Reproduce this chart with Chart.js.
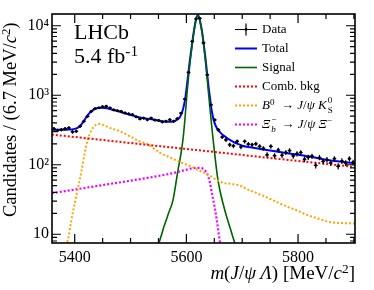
<!DOCTYPE html>
<html><head><meta charset="utf-8">
<script src="https://cdn.jsdelivr.net/npm/chart.js@4.4.1/dist/chart.umd.min.js"></script>
<style>
html,body{margin:0;padding:0;background:#fff;}
#wrap{position:relative;width:374px;height:290px;overflow:hidden;}
canvas{display:block;}
.t{position:absolute;font-family:"Liberation Serif","Times New Roman",serif;color:#000;white-space:nowrap;}
.leg{font-size:13px;line-height:13px;left:262px;}
.ss{display:inline-block;position:relative;width:8px;height:10px;}
.su{position:absolute;left:1px;bottom:4px;font-size:9px;line-height:9px;}
.sb{position:absolute;left:1px;top:7px;font-size:9px;line-height:9px;}
sup{font-size:0.7em;line-height:0;vertical-align:0.45em;}
</style></head><body>
<div id="wrap">
<canvas id="c" width="374" height="290"></canvas>
<div class="t" style="left:74px;top:20.6px;font-size:22px;line-height:22px;">LHCb</div>
<div class="t" style="left:74px;top:44.6px;font-size:22px;line-height:22px;">5.4 fb<sup>-1</sup></div>
<div class="t leg" style="top:21.8px">Data</div>
<div class="t leg" style="top:40.8px">Total</div>
<div class="t leg" style="top:59.8px">Signal</div>
<div class="t leg" style="top:78.8px">Comb. bkg</div>
<div class="t leg" style="top:97.8px"><i>B</i><sup>0</sup>&nbsp; → <i>J</i>/<i>ψ K</i><span class="ss"><span class="su">0</span><span class="sb">S</span></span></div>
<div class="t leg" style="top:116.8px"><i>Ξ</i><span class="ss"><span class="su">−</span><span class="sb"><i>b</i></span></span> → <i>J</i>/<i>ψ Ξ</i><sup>−</sup></div>
<div class="t" style="right:19px;top:263px;font-size:19px;line-height:20px;"><i>m</i>(<i>J</i>/<i>ψ Λ</i>) [MeV/<i>c</i><sup>2</sup>]</div>
<div class="t" style="left:1px;top:217px;font-size:18.5px;line-height:19px;transform-origin:0 0;transform:rotate(-90deg);">Candidates / (6.7 MeV/<i>c</i><sup>2</sup>)</div>
</div>
<script>
// ---- data ----
const massBins = [5362.65,5369.35,5376.05,5382.75,5389.45,5396.15,5402.85,5409.55,5416.25,5422.95,
5429.65,5436.35,5443.05,5449.75,5456.45,5463.15,5469.85,5476.55,5483.25,5489.95,
5496.65,5503.35,5510.05,5516.75,5523.45,5530.15,5536.85,5543.55,5550.25,5556.95,
5563.65,5570.35,5577.05,5583.75,5590.45,5597.15,5603.85,5610.55,5617.25,5623.95,
5630.65,5637.35,5644.05,5650.75,5657.45,5664.15,5670.85,5677.55,5684.25,5690.95,
5697.65,5704.35,5711.05,5717.75,5724.45,5731.15,5737.85,5744.55,5751.25,5757.95,
5764.65,5771.35,5778.05,5784.75,5791.45,5798.15,5804.85,5811.55,5818.25,5824.95,
5831.65,5838.35,5845.05,5851.75,5858.45,5865.15,5871.85,5878.55,5885.25,5891.95,5898.65];
const dataCounts = [330,311,320,330,340,297,303,357,422,497,
585,640,658,683,695,658,615,600,585,557,
540,527,490,457,470,444,470,440,436,414,
422,444,422,460,552,880,2130,5960,12500,12800,
5650,1970,726,441,318,250,228,194,187,217,
180,217,198,194,200,184,172,139,184,135,
163,137,150,160,134,144,150,120,128,133,
98,127,112,118,106,122,95,113,106,122,108];
const binHalfWidth = 3.35;

const totalMass = [5359,5370,5385,5395,5400,5405,5410,5416,5423,5430,5437,5445,5455,5463,5475,5486,5498,5511,5523,5535,5545,5552,5560,5568,5576,5582,5588,5592,5595,5598,5601,5604,5607,5610,5613,5616,5618,5620.5,5623,5625,5628,5631,5634,5637,5640,5643,5646,5650,5656,5660,5666,5672,5678,5685,5692,5700,5715,5730,5750,5770,5800,5825,5850,5875,5902];
const totalVals = [318,318,320,322,328,340,365,420,515,590,640,662,655,635,600,560,525,490,468,455,440,425,418,415,420,440,480,560,680,900,1400,2250,3550,5350,7950,11100,13100,14200,13100,11100,8300,5500,3500,2100,1270,820,560,410,320,295,265,245,228,212,200,188,178,170,160,151,139,129,118,111,105];

const signalMass = [5546,5552,5560,5568,5576,5585,5590,5594,5598,5601,5604,5607,5610,5613,5616,5618,5620.5,5623,5626,5628,5631,5634,5637,5640,5643,5646,5650,5656,5660,5666,5672,5678,5687,5694];
const signalVals = [6,8,13,20,31,84,140,235,520,1050,1900,3200,5000,7600,10800,12800,13900,12800,10000,8000,5200,3200,1800,1000,560,320,160,65,43,27,18,12.6,7.4,5.5];

const combMass = [5359,5450,5550,5650,5750,5850,5902];
const combVals = [272,227,186,153,125,103,93];

const b0Mass = [5383,5388,5394,5400,5405,5412,5418,5423,5430,5437,5444,5452,5463,5481,5499,5517,5529,5552,5570,5588,5606,5624,5642,5655,5666,5680,5696,5710,5726,5744,5762,5780,5798,5816,5834,5857,5880,5902];
const b0Vals = [6,8.5,16,28,43,80,150,225,315,370,386,370,339,303,256,216,200,150,128,110,96,82,70,60,55,53,50,44,39,34,29,25,22,19,17,15,14.5,14.3];

const xibMass = [5359,5400,5450,5500,5550,5580,5600,5615,5625,5632,5638,5642,5646,5650,5654,5658,5662];
const xibVals = [39,44,51,59,69,77,85,90,90,85,72,56,38,26,17,10,6];

const xTicks = [5400,5600,5800];
const yTicks = [10,100,1000,10000];
const yTickLabels = ['10','10²','10³','10⁴'];

const pts = (xs, ys) => xs.map((v,i)=>({x:v,y:ys[i]}));

const plotPlugin = {
  id:'plotDecor',
  afterDatasetsDraw(chart){
    const {ctx, chartArea:a, scales} = chart;
    const xs = scales.x, ys = scales.y;
    ctx.save();
    ctx.beginPath(); ctx.rect(a.left,a.top,a.right-a.left,a.bottom-a.top); ctx.clip();
    ctx.strokeStyle='#000'; ctx.fillStyle='#000'; ctx.lineWidth=1.2;
    massBins.forEach((m,i)=>{
      const n = dataCounts[i], e = Math.sqrt(n);
      const px = xs.getPixelForValue(m), py = ys.getPixelForValue(n);
      const y1 = ys.getPixelForValue(n+e), y2 = ys.getPixelForValue(Math.max(n-e,1));
      const x1 = xs.getPixelForValue(m-binHalfWidth), x2 = xs.getPixelForValue(m+binHalfWidth);
      ctx.beginPath(); ctx.moveTo(px,y1); ctx.lineTo(px,y2); ctx.moveTo(x1,py); ctx.lineTo(x2,py); ctx.stroke();
      ctx.beginPath(); ctx.arc(px,py,1.4,0,Math.PI*2); ctx.fill();
    });
    ctx.restore();
    ctx.save();
    ctx.strokeStyle='#000'; ctx.lineWidth=1.6;
    ctx.strokeRect(a.left,a.top,a.right-a.left,a.bottom-a.top);
    ctx.lineWidth=1.2;
    const big=9, small=5;
    for(let v=5400; v<=xs.max; v+=50){
      const L = (v%200===0)? big: small;
      const p = xs.getPixelForValue(v);
      ctx.beginPath(); ctx.moveTo(p,a.bottom); ctx.lineTo(p,a.bottom-L);
      ctx.moveTo(p,a.top); ctx.lineTo(p,a.top+L); ctx.stroke();
    }
    for(let d=1; d<=10000; d*=10){
      for(let k=1;k<=9;k++){
        const v=k*d; if(v<ys.min||v>ys.max) continue;
        const L = (k===1)? big: small;
        const p = ys.getPixelForValue(v);
        ctx.beginPath(); ctx.moveTo(a.left,p); ctx.lineTo(a.left+L,p);
        ctx.moveTo(a.right,p); ctx.lineTo(a.right-L,p); ctx.stroke();
      }
    }
    const lx1=235, lx2=257;
    const rows=[29.5,48.5,67.5,86.5,105.5,124.5];
    const sty=[null,['#0000ff',2,[]],['#006400',1.6,[]],['#ff0000',2,[2,2]],['#ffa500',2,[2,2]],['#ee00ff',2,[2,2]]];
    ctx.strokeStyle='#000'; ctx.lineWidth=1.2;
    ctx.beginPath(); ctx.moveTo(lx1,rows[0]); ctx.lineTo(lx2,rows[0]);
    ctx.moveTo((lx1+lx2)/2,rows[0]-6); ctx.lineTo((lx1+lx2)/2,rows[0]+6); ctx.stroke();
    ctx.beginPath(); ctx.arc((lx1+lx2)/2,rows[0],1.4,0,Math.PI*2); ctx.fillStyle='#000'; ctx.fill();
    for(let i=1;i<6;i++){
      ctx.strokeStyle=sty[i][0]; ctx.lineWidth=sty[i][1]; ctx.setLineDash(sty[i][2]);
      ctx.beginPath(); ctx.moveTo(lx1,rows[i]); ctx.lineTo(lx2,rows[i]); ctx.stroke();
    }
    ctx.restore();
  }
};

const lineDs = (label, xs, ys, color, width, dash) => ({
  label, data: pts(xs,ys), showLine:true, pointRadius:0, borderColor:color, borderWidth:width,
  borderDash:dash, cubicInterpolationMode:'monotone', fill:false
});

new Chart(document.getElementById('c'), {
  type:'scatter',
  data:{ datasets:[
    {label:'Data', data:pts(massBins,dataCounts), pointRadius:0, showLine:false},
    lineDs('Comb. bkg', combMass, combVals, '#ff0000', 2, [2,2]),
    lineDs('B0 → J/ψ K0S', b0Mass, b0Vals, '#ffa500', 2, [2,2]),
    lineDs('Ξb− → J/ψ Ξ−', xibMass, xibVals, '#ee00ff', 2.2, [2,2]),
    lineDs('Signal', signalMass, signalVals, '#006400', 1.6, []),
    lineDs('Total', totalMass, totalVals, '#0000ff', 2, []),
  ]},
  options:{
    responsive:false, animation:false, devicePixelRatio:1,
    layout:{padding:{left:0,right:19,top:14,bottom:0}},
    plugins:{legend:{display:false}, tooltip:{enabled:false}},
    scales:{
      x:{type:'linear', min:5359.3, max:5902,
        afterBuildTicks:(s)=>{s.ticks = xTicks.map(v=>({value:v}));},
        afterFit:(s)=>{s.height=47;},
        grid:{display:false, drawTicks:false}, border:{display:false},
        ticks:{autoSkip:false, maxRotation:0, padding:5, color:'#000',
          font:{family:'"Liberation Serif", serif', size:16}, callback:(v)=>String(v)}
      },
      y:{type:'logarithmic', min:7.49, max:14750,
        afterBuildTicks:(s)=>{s.ticks = yTicks.map(v=>({value:v}));},
        afterFit:(s)=>{s.width=52;},
        grid:{display:false, drawTicks:false}, border:{display:false},
        ticks:{autoSkip:false, padding:3, color:'#000',
          font:{family:'"Liberation Serif", serif', size:16},
          callback:(v)=>{const i=yTicks.indexOf(v); return i>=0? yTickLabels[i] : '';}}
      }
    }
  },
  plugins:[plotPlugin]
});
</script>
</body></html>
